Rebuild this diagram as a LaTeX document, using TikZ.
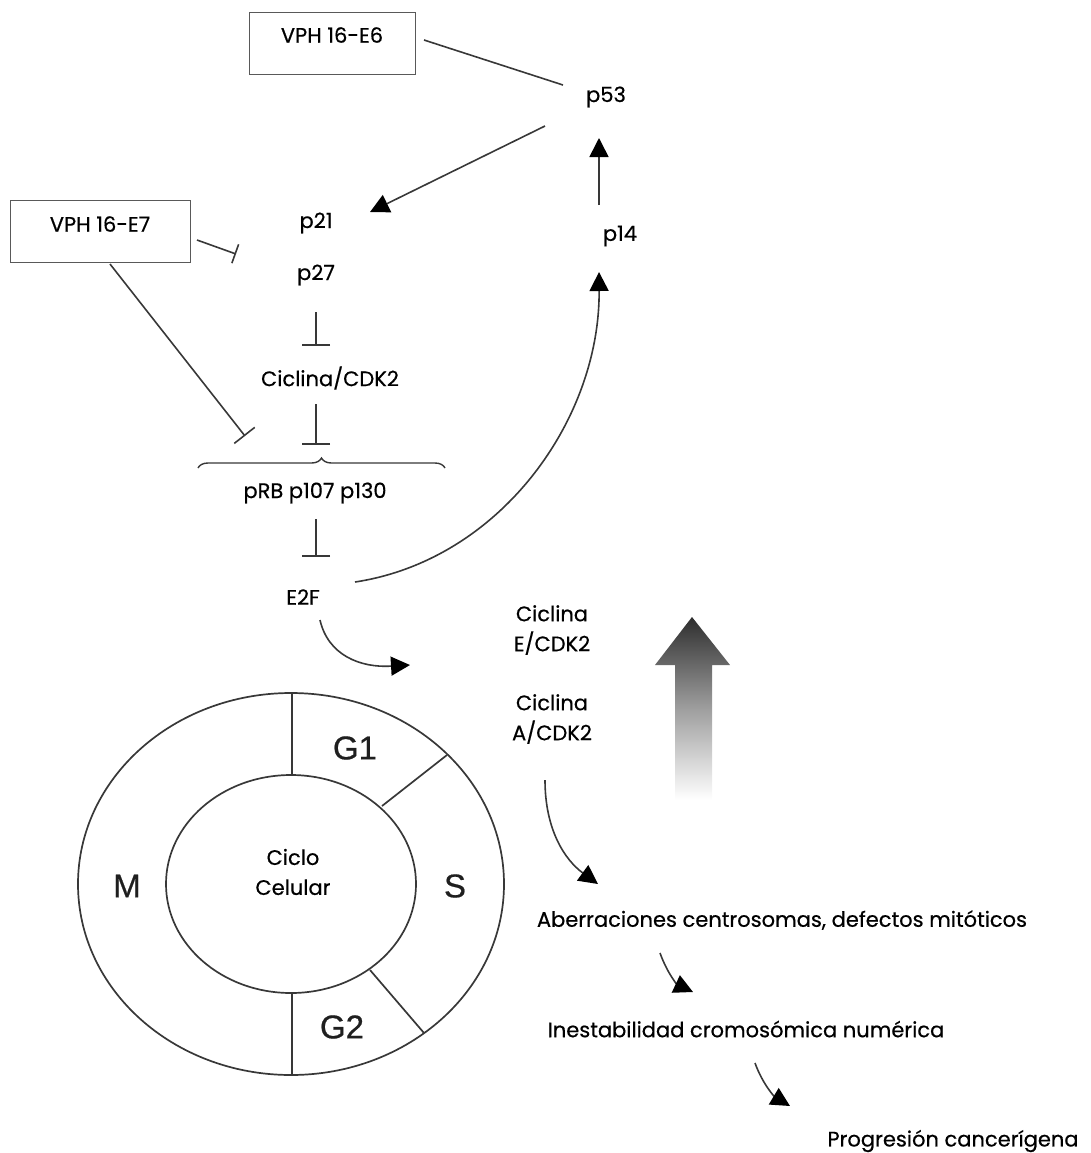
\documentclass[tikz,border=0pt]{standalone}
\usepackage{fontspec}
\setmainfont{Poppins}[FakeBold=0.5]
\newfontfamily\arialf{Liberation Sans}[FakeBold=0.6]
\usetikzlibrary{arrows.meta,decorations.pathreplacing,calc}
\begin{document}
\begin{tikzpicture}[x=0.5pt,y=-0.5pt,
  lbl/.style={font=\fontsize{10.5}{12}\selectfont, text=black, inner sep=1pt},
  boxst/.style={draw=black!65, line width=0.7pt, anchor=north west, inner sep=0pt},
  conn/.style={draw=black!78, line width=0.8pt},
  act/.style={conn, -{Triangle[length=9.5pt,width=9.5pt,fill=black,color=black]}},
  inh/.style={conn, -{Bar[width=14pt]}},
  phase/.style={font=\arialf\fontsize{16.5}{18}\selectfont, text=black!88},
  ring/.style={draw=black!78, line width=0.85pt}]
\useasboundingbox (0,0) rectangle (1091,1153);

% boxes
\node[boxst, minimum width=83pt, minimum height=31pt] (e6box) at (249,12) {};
\node[lbl] (e6) at (332,35) {VPH 16-E6};
\node[boxst, minimum width=90pt, minimum height=31pt] (e7box) at (10,200) {};
\node[lbl] (e7) at (100,224) {VPH 16-E7};

% labels
\node[lbl] (p53) at (606,97) {p53};
\node[lbl] (p21) at (316,223) {p21};
\node[lbl] (p27) at (316,275) {p27};
\node[lbl] (p14) at (620,236) {p14};
\node[lbl] (cdk) at (330,378) {Ciclina/CDK2};
\node[lbl] (prb) at (315,493) {pRB p107 p130};
\node[lbl] (e2f) at (303,597) {E2F};
\node[lbl, align=center] (cye) at (552,630) {Ciclina\\[3pt]E/CDK2};
\node[lbl, align=center] (cya) at (552,719) {Ciclina\\[3pt]A/CDK2};
\node[lbl] (aber) at (782,920) {Aberraciones centrosomas, defectos mitóticos};
\node[lbl] (ines) at (746,1029) {Inestabilidad cromosómica numérica};
\node[lbl] (prog) at (953,1141) {Progresión cancerígena};

% coordinates for connector ends
\coordinate (e6s) at (424,40);
\coordinate (p53w) at (563,85);
\coordinate (p53s) at (545,126);
\coordinate (p21e) at (370,212);
\coordinate (p14n) at (599,205);
\coordinate (p53b) at (599,138);
\coordinate (e7e) at (197,240);
\coordinate (p21w) at (236,254);
\coordinate (p27s) at (316,312);
\coordinate (cdkn) at (316,346);
\coordinate (cdks) at (316,404);
\coordinate (bracen) at (316,445);
\coordinate (e7s) at (110,264);
\coordinate (bracew) at (245,436);
\coordinate (prbs) at (316,519);
\coordinate (e2fn) at (316,557);
\coordinate (e2fe) at (355,582);
\coordinate (p14s) at (599,272);
\coordinate (e2fd) at (320,620);
\coordinate (cyct) at (410,665);
\coordinate (cyas) at (545,780);
\coordinate (abern) at (598,884);
\coordinate (abers) at (660,953);
\coordinate (inesn) at (693,992);
\coordinate (iness) at (755,1063);
\coordinate (progn) at (790,1106);

% connectors
\draw[conn] (e6s) -- (p53w);
\draw[act] (p53s) -- (p21e);
\draw[act] (p14n) -- (p53b);
\draw[conn, -{Bar[width=10pt]}] (e7e) -- (p21w);
\draw[inh] (p27s) -- (cdkn);
\draw[inh] (cdks) -- (bracen);
\draw[conn, -{Bar[width=13pt]}] (e7s) -- (bracew);
\draw[inh] (prbs) -- (e2fn);
\draw[act] (e2fe) .. controls (500,560) and (600,420) .. (p14s);
\draw[act] (e2fd) .. controls (328,655) and (360,668) .. (cyct);
\draw[act] (cyas) .. controls (545,830) and (565,860) .. (abern);
\draw[act] (abers) .. controls (668,975) and (678,985) .. (inesn);
\draw[act] (iness) .. controls (763,1085) and (775,1097) .. (progn);

% brace
\coordinate (brl) at (198,468);
\coordinate (brr) at (445,468);
\draw[conn, line width=0.7pt, decorate, decoration={brace, amplitude=5pt}] (brl) -- (brr);

% big gradient arrow
\shade[top color=black!82, bottom color=white, middle color=black!38]
  (692,617) -- (730,665) -- (712,665) -- (712,800) -- (675,800) -- (675,665) -- (655,665) -- cycle;

% cell cycle
\coordinate (cc) at (291,884);
\draw[ring] (cc) ellipse [x radius=213, y radius=191];
\draw[ring] (cc) ellipse [x radius=125, y radius=109];
\coordinate (d1i) at (292,775); \coordinate (d1o) at (292,693);
\coordinate (d2i) at (292,993); \coordinate (d2o) at (292,1075);
\coordinate (d3i) at (382,806); \coordinate (d3o) at (447,755);
\coordinate (d4i) at (370,970); \coordinate (d4o) at (424,1033);
\draw[ring] (d1i) -- (d1o);
\draw[ring] (d2i) -- (d2o);
\draw[ring] (d3i) -- (d3o);
\draw[ring] (d4i) -- (d4o);
\node[phase] (g1) at (355,748) {G1};
\node[phase] (s) at (455,886) {S};
\node[phase] (g2) at (342,1027) {G2};
\node[phase] (m) at (127,886) {M};
\node[lbl, align=center] (ciclo) at (293,872) {Ciclo\\[3pt]Celular};
\end{tikzpicture}
\end{document}
